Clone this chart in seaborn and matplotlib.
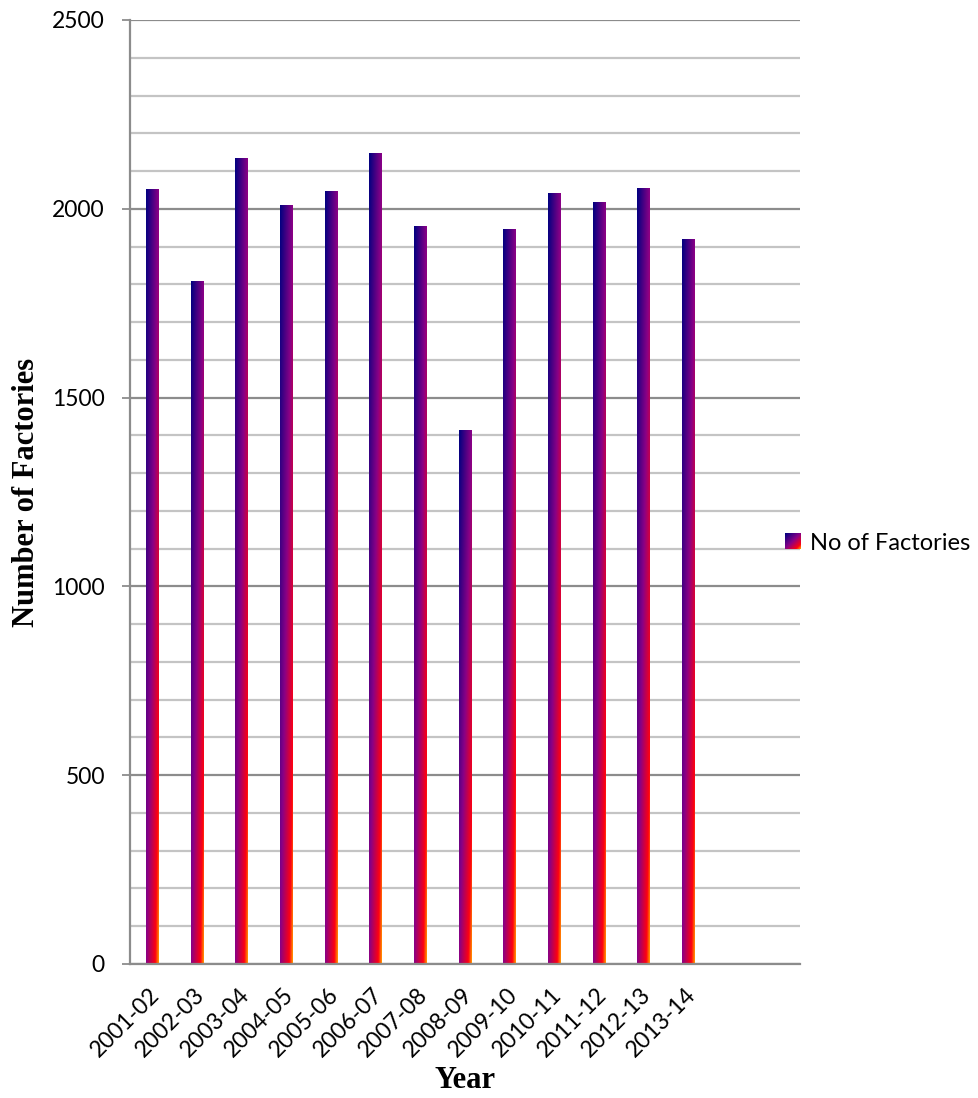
import numpy as np
import pandas as pd
import matplotlib
matplotlib.use("Agg")
import matplotlib.pyplot as plt
import seaborn as sns
from matplotlib.colors import LinearSegmentedColormap, Normalize
from matplotlib.ticker import MultipleLocator
from matplotlib.legend_handler import HandlerBase
from matplotlib.image import BboxImage
from matplotlib.transforms import Bbox, TransformedBbox, ScaledTranslation
from matplotlib.patches import Patch

# Number of registered factories per financial year
years = ["2001-02", "2002-03", "2003-04", "2004-05", "2005-06", "2006-07",
         "2007-08", "2008-09", "2009-10", "2010-11", "2011-12", "2012-13",
         "2013-14"]
factories = [2050, 1808, 2132, 2008, 2045, 2146, 1952, 1413, 1944, 2040,
             2016, 2053, 1918]
series_name = "No of Factories"

sns.set_theme(style="white")
plt.rcParams["font.family"] = ["Lato", "DejaVu Sans"]
plt.rcParams["text.color"] = "black"
plt.rcParams["axes.labelcolor"] = "black"

# navy -> purple -> red -> orange, running diagonally across each bar
sunset = LinearSegmentedColormap.from_list(
    "sunset", [(0.0, "#000080"), (0.5, "#8a0086"), (0.86, "#ff0010"), (1.0, "#ff9a00")])


def diagonal_ramp(ny, nx):
    xf = np.linspace(0, 1, nx)[None, :]
    yf = np.linspace(0, 1, ny)[:, None]  # 0 at the top row
    return (xf + yf) / 2.0


fig = plt.figure(figsize=(9.79, 10.98), dpi=100)
ax = fig.add_axes([130 / 979, 1 - 964 / 1098, 670 / 979, 944 / 1098])

df = pd.DataFrame({"Year": years, "Factories": factories})
sns.barplot(data=df, x="Year", y="Factories", order=years, width=0.29,
            color="white", ax=ax)

ramp = diagonal_ramp(400, 40)
for bar in list(ax.patches):
    x0, w, h = bar.get_x(), bar.get_width(), bar.get_height()
    ax.imshow(ramp, cmap=sunset, vmin=0, vmax=1, origin="upper",
              extent=[x0, x0 + w, 0, h], aspect="auto",
              interpolation="bilinear", zorder=2)
    bar.set_visible(False)

# two empty category slots on the right
ax.set_xlim(-0.5, 14.5)
ax.set_ylim(0, 2500)
ax.set_aspect("auto")

ax.yaxis.set_major_locator(MultipleLocator(500))
ax.yaxis.set_minor_locator(MultipleLocator(100))
ax.set_axisbelow(True)
ax.grid(False)
ax.grid(axis="y", which="major", color="#8c8c8c", linewidth=1.6)
ax.grid(axis="y", which="minor", color="#c4c4c4", linewidth=1.6)

for side in ("top", "right"):
    ax.spines[side].set_visible(False)
for side in ("left", "bottom"):
    ax.spines[side].set_color("#8c8c8c")
    ax.spines[side].set_linewidth(1.6)

ax.tick_params(axis="y", which="major", left=True, length=6, width=1.3,
               color="#8c8c8c", direction="out", pad=12, labelsize=16.5,
               labelcolor="black")
ax.tick_params(axis="y", which="minor", left=False, length=0)
ax.tick_params(axis="x", which="both", bottom=False, length=0, pad=20,
               labelsize=16.5, labelcolor="black")

ax.set_xticks(range(len(years)))
ax.set_xticklabels(years, rotation=45, ha="right", va="center",
                   rotation_mode="anchor")
shift = ScaledTranslation(4 / 100, 0, fig.dpi_scale_trans)
for lbl in ax.get_xticklabels():
    lbl.set_transform(lbl.get_transform() + shift)

ax.set_xlabel("Year", fontsize=22, fontweight="bold", color="black",
              family=["Liberation Serif"], va="center")
ax.set_ylabel("Number of Factories", fontsize=22, fontweight="bold",
              color="black", family=["Liberation Serif"], va="center")
ax.xaxis.set_label_coords(0.5, -0.123)
ax.yaxis.set_label_coords(-0.155, 0.5)


class GradientSquare(HandlerBase):
    def create_artists(self, legend, orig_handle, xdescent, ydescent,
                       width, height, fontsize, trans):
        box = TransformedBbox(Bbox.from_bounds(-xdescent, -ydescent, width, height), trans)
        img = BboxImage(box, cmap=sunset, norm=Normalize(0, 1),
                        interpolation="bilinear", origin="upper")
        img.set_data(diagonal_ramp(20, 20))
        return [img]


handle = Patch(label=series_name)
fig.legend(handles=[handle], handler_map={handle: GradientSquare()},
           loc="center left", bbox_to_anchor=(785 / 979, 1 - 543 / 1098),
           frameon=False, borderpad=0, borderaxespad=0, handlelength=0.64,
           handleheight=0.64, handletextpad=0.42, fontsize=17,
           labelcolor="black")

fig.savefig("out.png", dpi=100, facecolor="white")
